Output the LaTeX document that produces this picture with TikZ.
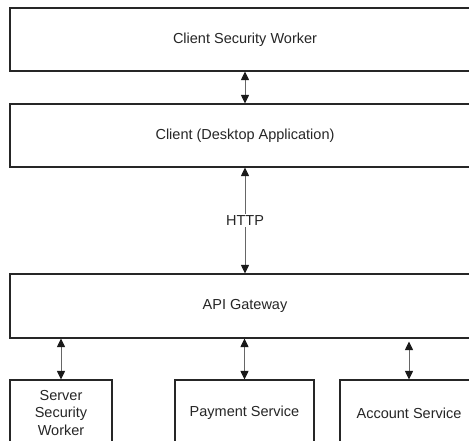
\documentclass[tikz,border=0pt]{standalone}
\usepackage{fontspec}
\setmainfont{Liberation Sans}
\usetikzlibrary{arrows.meta}
\begin{document}
\begin{tikzpicture}[x=1pt,y=-1pt,
  box/.style={draw=black!85, line width=1.1pt, fill=white, text=black!85,
    font=\fontsize{14.5}{17.5}\selectfont, align=center, inner sep=0pt},
  link/.style={draw=black!60, line width=1pt, {Triangle[length=8.5pt,width=8pt,color=black!90]}-{Triangle[length=8.5pt,width=8pt,color=black!90]}},
  lbl/.style={fill=white, text=black!85, font=\fontsize{14.5}{17.5}\selectfont, inner sep=2pt}]
\useasboundingbox (0,0) rectangle (469,441);
\clip (0,0) rectangle (469,441);

% layers
\node[box, minimum width=470pt, minimum height=63pt] (csw) at (245,39.5) {Client Security Worker};
\node[box, minimum width=470pt, minimum height=63pt] (cl) at (245,135.5) {Client (Desktop Application)};
\node[box, minimum width=470pt, minimum height=64pt] (api) at (245,306) {API Gateway};

% services
\node[box, minimum width=102pt, minimum height=66pt] (ssw) at (61,413) {Server\\Security\\Worker};
\node[box, minimum width=139pt, minimum height=66pt] (pay) at (244.5,413) {Payment Service};
\node[box, minimum width=138pt, minimum height=66pt] (acc) at (409,413) {Account Service};

% connections
\draw[link] (csw.south) -- (cl.north);
\draw[link] (cl.south) -- node[lbl] {HTTP} (api.north);
\draw[link] (api.south -| ssw.north) -- (ssw.north);
\draw[link] (api.south -| pay.north) -- (pay.north);
\draw[link] ([yshift=-3pt]api.south -| acc.north) -- (acc.north);
\end{tikzpicture}
\end{document}
